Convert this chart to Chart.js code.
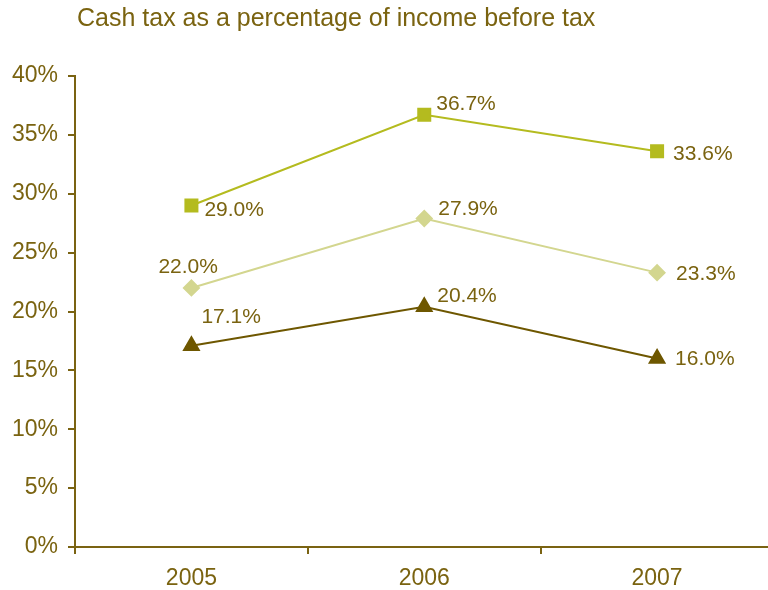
<!DOCTYPE html>
<html>
<head>
<meta charset="utf-8">
<script src="https://cdn.jsdelivr.net/npm/chart.js@4.4.1/dist/chart.umd.min.js"></script>
<style>
    html, body { margin: 0; padding: 0; background: #fff; overflow: hidden; }
    #wrap { position: relative; width: 784px; height: 590px; }
    #title {
        position: absolute; left: 77px; top: 3px;
        font-family: "Liberation Sans", Arial, Helvetica, sans-serif;
        font-size: 25px; color: #7a6310; white-space: nowrap;
    }
    canvas { display: block; }
</style>
</head>
<body>
<div id="wrap">
    <div id="title">Cash tax as a percentage of income before tax</div>
    <canvas id="taxChart" width="784" height="590"></canvas>
</div>
<script>
const years = ['2005', '2006', '2007'];
const seriesTop = [29.0, 36.7, 33.6];
const seriesMid = [22.0, 27.9, 23.3];
const seriesLow = [17.1, 20.4, 16.0];
const yTicks = [0, 5, 10, 15, 20, 25, 30, 35, 40];

const textColor = '#7a6310';
const axisColor = '#7a6312';
const fontFamily = '"Liberation Sans", Arial, Helvetica, sans-serif';

// label offsets from each point: [dx, dy] to the text's left edge / middle
const labelOffsets = [
    [[13, 5], [12, -11], [16, 3]],
    [[-33, -21], [14, -9], [19, 2]],
    [[10, -28], [13, -11], [18, 1]]
];

const pointLabels = {
    id: 'pointLabels',
    afterDatasetsDraw(chart) {
        const ctx = chart.ctx;
        ctx.save();
        ctx.font = '21px ' + fontFamily;
        ctx.fillStyle = textColor;
        ctx.textAlign = 'left';
        ctx.textBaseline = 'middle';
        chart.data.datasets.forEach((ds, i) => {
            chart.getDatasetMeta(i).data.forEach((pt, j) => {
                const off = labelOffsets[i][j];
                ctx.fillText(ds.data[j].toFixed(1) + '%', pt.x + off[0], pt.y + off[1]);
            });
        });
        ctx.restore();
    }
};

new Chart(document.getElementById('taxChart'), {
    type: 'line',
    data: {
        labels: years,
        datasets: [{
            data: seriesTop,
            borderColor: '#b4bb1f',
            backgroundColor: '#b4bb1f',
            borderWidth: 2,
            pointStyle: 'rect',
            pointRadius: 8.5
        }, {
            data: seriesMid,
            borderColor: '#d3d68f',
            backgroundColor: '#d3d68f',
            borderWidth: 2,
            pointStyle: 'rectRot',
            pointRadius: 7.5
        }, {
            data: seriesLow,
            borderColor: '#6e5700',
            backgroundColor: '#6e5700',
            borderWidth: 2,
            pointStyle: 'triangle',
            pointRadius: 8.5
        }]
    },
    options: {
        responsive: false,
        animation: false,
        layout: { padding: { top: 76, right: 2, left: 0, bottom: 0 } },
        plugins: {
            legend: { display: false },
            tooltip: { enabled: false }
        },
        elements: { line: { tension: 0 }, point: { borderWidth: 0 } },
        scales: {
            x: {
                offset: true,
                grid: { offset: true, drawOnChartArea: false, tickLength: 7, color: axisColor, lineWidth: 2 },
                border: { color: axisColor, width: 2 },
                ticks: { color: textColor, font: { family: fontFamily, size: 23 }, padding: 11 },
                afterFit(scale) { scale.height = 43; }
            },
            y: {
                min: 0,
                max: 40,
                afterBuildTicks(scale) { scale.ticks = yTicks.map(v => ({ value: v })); },
                grid: { drawOnChartArea: false, tickLength: 7, color: axisColor, lineWidth: 2 },
                border: { color: axisColor, width: 2 },
                ticks: {
                    color: textColor,
                    font: { family: fontFamily, size: 23 },
                    padding: 10,
                    callback: v => v + '%'
                },
                afterFit(scale) { scale.width = 75; }
            }
        }
    },
    plugins: [pointLabels]
});
</script>
</body>
</html>
